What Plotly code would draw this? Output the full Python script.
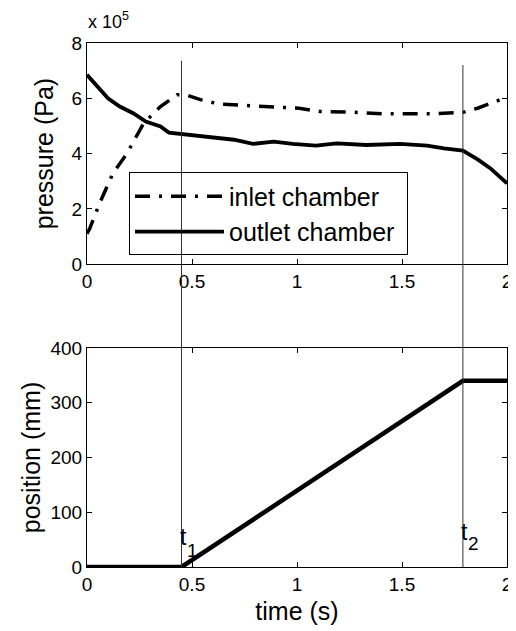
import plotly.graph_objects as go
from plotly.subplots import make_subplots

# ---- data ----
t_outlet = [0, 0.1, 0.156, 0.22, 0.28, 0.35, 0.39, 0.46, 0.54, 0.70, 0.79, 0.89, 0.98,
            1.09, 1.19, 1.33, 1.49, 1.62, 1.70, 1.79, 1.86, 1.92, 2.0]
p_outlet = [6.85, 6.0, 5.7, 5.46, 5.16, 4.98, 4.76, 4.70, 4.62, 4.50, 4.35, 4.43, 4.35,
            4.29, 4.37, 4.31, 4.35, 4.29, 4.19, 4.11, 3.79, 3.47, 2.92]
t_inlet = [0, 0.013, 0.06, 0.124, 0.19, 0.27, 0.35, 0.43, 0.47, 0.54, 0.63, 0.78, 0.89,
           1.01, 1.11, 1.25, 1.41, 1.65, 1.79, 1.86, 2.0]
p_inlet = [1.1, 1.29, 2.2, 3.29, 4.0, 5.1, 5.7, 6.13, 6.13, 5.95, 5.79, 5.73, 5.67,
           5.64, 5.52, 5.5, 5.44, 5.44, 5.49, 5.64, 6.04]
t_pos = [0, 0.45, 1.79, 2.0]
pos = [0, 0, 340, 340]
t_marks = [0.45, 1.79]
mark_subs = ["1", "2"]
mark_t_y = [55, 64]       # y (mm) where the "t" of each marker label sits
mark_sub_y = [31, 42]     # y (mm) where the subscript sits
x_ticks = [0, 0.5, 1, 1.5, 2]
x_ticktext = ["0", "0.5", "1", "1.5", "2"]
p_ticks = [0, 2, 4, 6, 8]
pos_ticks = [0, 100, 200, 300, 400]

FONT = "Liberation Sans, Arial, sans-serif"

fig = make_subplots(rows=2, cols=1)

fig.add_trace(go.Scatter(x=t_inlet, y=p_inlet, mode="lines", name="inlet chamber\u00a0",
                         line=dict(color="black", width=3.5, dash="15px,9px,3px,9px")),
              row=1, col=1)
fig.add_trace(go.Scatter(x=t_outlet, y=p_outlet, mode="lines", name="outlet chamber\u00a0",
                         line=dict(color="black", width=3.8)),
              row=1, col=1)
fig.add_trace(go.Scatter(x=t_pos, y=pos, mode="lines", showlegend=False,
                         line=dict(color="black", width=4.5)),
              row=2, col=1)

# vertical marker lines spanning both panels
tops = [0.966, 0.958]
for tm, top in zip(t_marks, tops):
    fig.add_shape(type="line", xref="x2", yref="paper", x0=tm, x1=tm, y0=0, y1=top,
                  line=dict(color="#333", width=1))

for tm, sub, ty, sy in zip(t_marks, mark_subs, mark_t_y, mark_sub_y):
    fig.add_annotation(x=tm, y=ty, xref="x2", yref="y2", text="t", showarrow=False,
                       xanchor="center", yanchor="middle", xshift=1.5,
                       font=dict(family=FONT, size=23, color="black"))
    fig.add_annotation(x=tm, y=sy, xref="x2", yref="y2", text=sub, showarrow=False,
                       xanchor="center", yanchor="middle", xshift=10.5,
                       font=dict(family=FONT, size=19, color="black"))

fig.add_annotation(x=0, y=1.042, xref="paper", yref="paper", text="x 10<sup>5</sup>",
                   showarrow=False, xanchor="left", yanchor="middle", xshift=-1,
                   font=dict(family=FONT, size=18, color="black"))

axis_common = dict(showline=True, linecolor="black", linewidth=1, mirror="allticks",
                   ticks="inside", ticklen=5, tickcolor="black", showgrid=False,
                   zeroline=False, automargin=False,
                   tickfont=dict(family=FONT, size=19, color="black"))

fig.update_xaxes(range=[0, 2], tickvals=x_ticks, ticktext=x_ticktext, **axis_common)
fig.update_yaxes(**axis_common)
fig.update_yaxes(range=[0, 8], tickvals=p_ticks, row=1, col=1,
                 title=dict(text="pressure (Pa)", font=dict(family=FONT, size=25, color="black"),
                            standoff=10))
fig.update_yaxes(range=[0, 400], tickvals=pos_ticks, row=2, col=1,
                 title=dict(text="position (mm)", font=dict(family=FONT, size=25, color="black"),
                            standoff=2))
fig.update_xaxes(row=2, col=1,
                 title=dict(text="time (s)", font=dict(family=FONT, size=25, color="black"),
                            standoff=8))

# page body adds an 8px offset; figure is sized so the plot lands on the reference pixels
fig.update_layout(
    width=508, height=623,
    margin=dict(l=79, r=9, t=35, b=64),
    paper_bgcolor="white", plot_bgcolor="white",
    font=dict(family=FONT, color="black"),
    xaxis=dict(domain=[0, 1]),
    yaxis=dict(domain=[0.578, 1.0]),
    xaxis2=dict(domain=[0, 1]),
    yaxis2=dict(domain=[0.0, 0.418]),
    legend=dict(x=0.1, y=0.753, xref="paper", yref="paper", xanchor="left", yanchor="top",
                bordercolor="black", borderwidth=1, bgcolor="rgba(255,255,255,0)",
                font=dict(family=FONT, size=25, color="black"), itemwidth=89,
                tracegroupgap=0),
    showlegend=True,
)

fig.write_html("out.html")
